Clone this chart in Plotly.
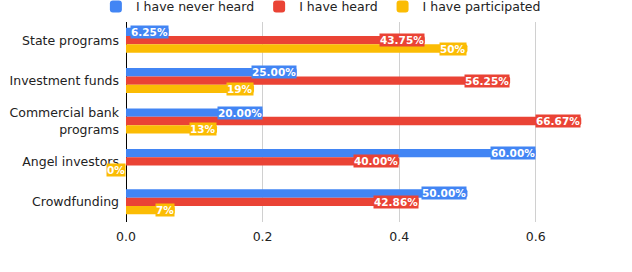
import plotly.graph_objects as go

categories = ["State programs", "Investment funds", "Commercial bank<br>programs", "Angel investors", "Crowdfunding"]
never_heard = [0.0625, 0.25, 0.20, 0.60, 0.50]
heard = [0.4375, 0.5625, 0.6667, 0.40, 0.4286]
participated = [0.50, 0.1875, 0.1333, 0.0, 0.0714]
series = [
    ("I have never heard", never_heard, "#4285F4", "{:.2%}"),
    ("I have heard", heard, "#EA4335", "{:.2%}"),
    ("I have participated", participated, "#FBBC04", "{:.0%}"),
]
x_ticks = [0.0, 0.2, 0.4, 0.6]

bargap = 0.38
w = (1 - bargap) / 3
font = "DejaVu Sans, sans-serif"

fig = go.Figure()
annotations = []
for k, (name, vals, color, fmt) in enumerate(series):
    fig.add_trace(go.Bar(name=name, y=list(range(len(categories))), x=vals, orientation="h",
                         marker=dict(color=color, line=dict(width=0), cornerradius=2), width=w,
                         offset=-1.5 * w + k * w))
    for i, v in enumerate(vals):
        annotations.append(dict(x=v, y=i - w + k * w, xref="x", yref="y", text="<b>" + fmt.format(v) + "</b>",
                                showarrow=False, xanchor="right", yanchor="middle",
                                font=dict(color="white", size=10.5, family=font),
                                bgcolor=color, borderpad=0))

fig.update_layout(
    width=632, height=272, margin=dict(l=126, r=28, t=20, b=50, autoexpand=False),
    plot_bgcolor="white", paper_bgcolor="white",
    barmode="group", bargap=bargap,
    font=dict(family=font, size=11, color="#222"),
    legend=dict(orientation="h", x=-0.063, xanchor="left", y=1.065, yanchor="middle",
                font=dict(size=12.5, color="#222"), traceorder="normal"),
    annotations=annotations,
    showlegend=True,
)
fig.update_xaxes(range=[0, 0.7], tickvals=x_ticks, ticktext=["0.0", "0.2", "0.4", "0.6"],
                 showgrid=True, gridcolor="#d0d0d0", gridwidth=1, zeroline=True,
                 zerolinecolor="black", zerolinewidth=1, showline=False, ticks="",
                 ticklabelstandoff=5, tickfont=dict(size=12.5, color="#222"))
fig.update_yaxes(tickvals=list(range(len(categories))), ticktext=categories,
                 range=[len(categories) - 0.5, -0.5], showgrid=False, zeroline=False,
                 ticks="", ticklabelstandoff=6, tickfont=dict(size=12.5, color="#222"))

fig.write_html("out.html")
